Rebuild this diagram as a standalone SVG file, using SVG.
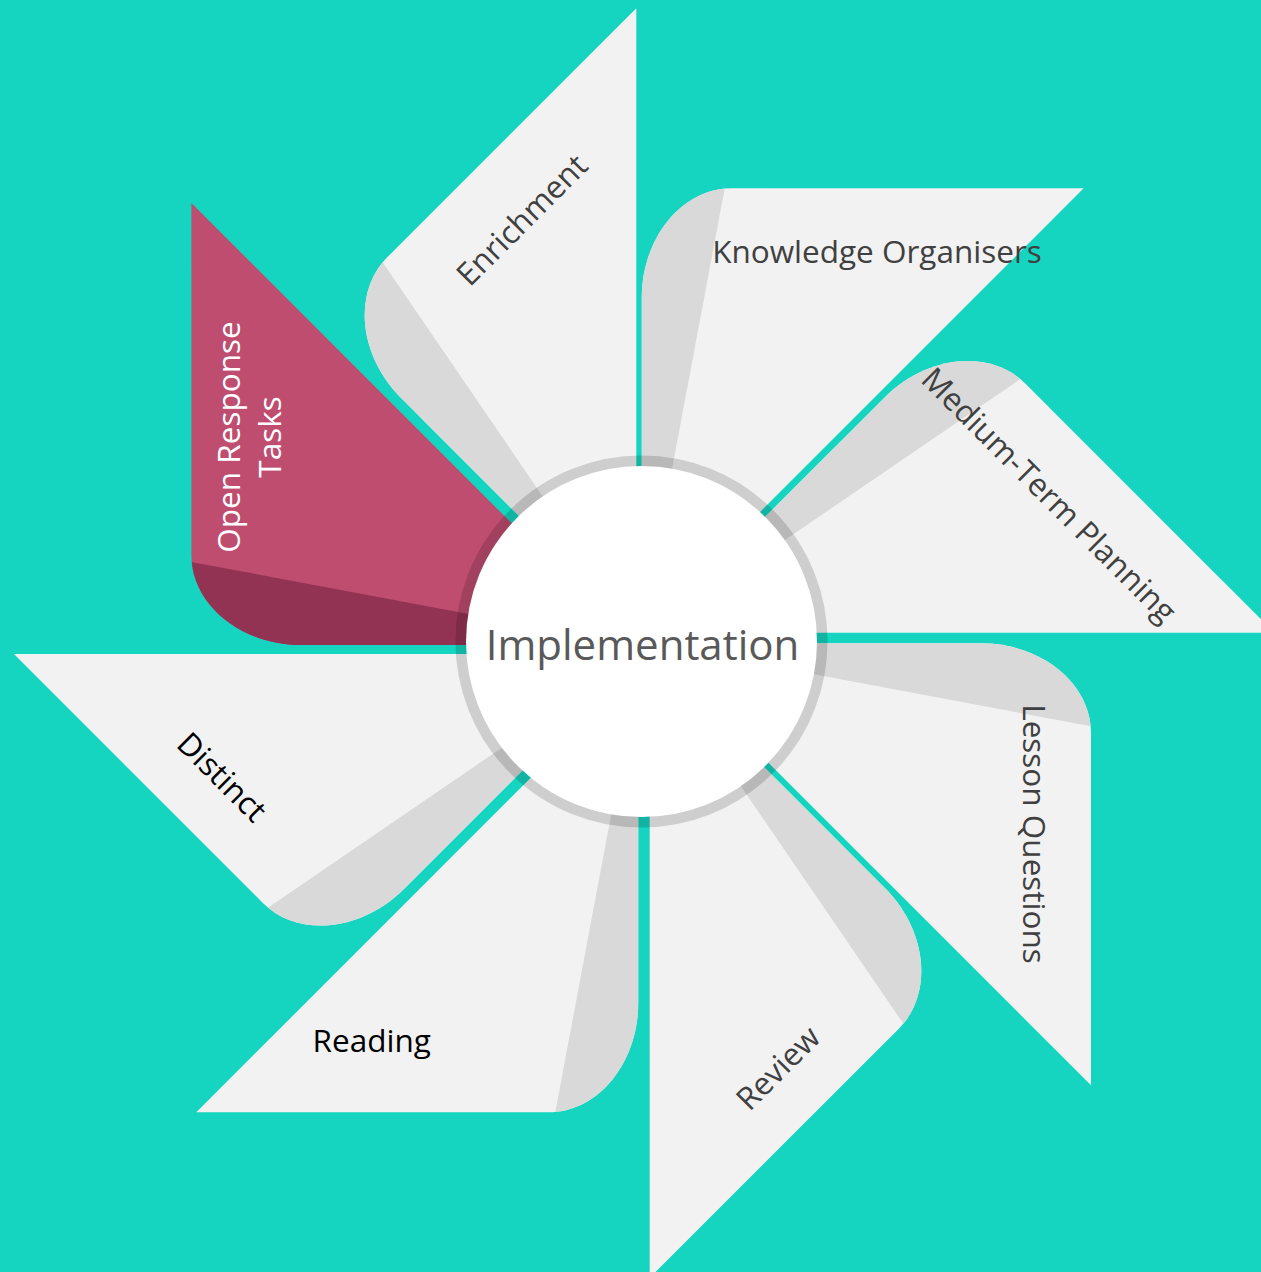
<svg xmlns="http://www.w3.org/2000/svg" xmlns:xlink="http://www.w3.org/1999/xlink" width="1261" height="1272" viewBox="0 0 1261 1272">
  <style>
    .light { fill: #f2f2f2; }
    .shade { fill: #d9d9d9; }
    .plight { fill: #be4d70; }
    .pshade { fill: #933353; }
    .lbl { font-family: "Open Sans", "Noto Sans", "Liberation Sans", sans-serif; font-size: 31.5px; fill: #404040; text-anchor: middle; }
    .dark { fill: #000000; }
    .white { fill: #ffffff; }
    .center { font-family: "Open Sans", "Noto Sans", "Liberation Sans", sans-serif; font-size: 42px; fill: #595959; text-anchor: middle; }
  </style>
  <defs>
    <path id="blade" d="M0,0 L0,-332 C0,-392.7 40.3,-442 90,-442 L442,-442 Z"/>
    <clipPath id="bc"><use xlink:href="#blade"/></clipPath>
    <polygon id="wedge" points="0,0 -2,-470 88.3,-470" clip-path="url(#bc)"/>
  </defs>
  <rect x="0" y="0" width="1261" height="1272" fill="#15d4c0"/>

  <g id="blade-enrichment" transform="translate(636.3,633.3) rotate(-45)">
    <use xlink:href="#blade" class="light"/>
    <use xlink:href="#wedge" class="shade"/>
  </g>
  <g id="blade-knowledge" transform="translate(641.7,630.3)">
    <use xlink:href="#blade" class="light"/>
    <use xlink:href="#wedge" class="shade"/>
  </g>
  <g id="blade-medium" transform="translate(649.3,632.7) rotate(45)">
    <use xlink:href="#blade" class="light"/>
    <use xlink:href="#wedge" class="shade"/>
  </g>
  <g id="blade-lesson" transform="translate(649,643.3) rotate(90)">
    <use xlink:href="#blade" class="light"/>
    <use xlink:href="#wedge" class="shade"/>
  </g>
  <g id="blade-review" transform="translate(649.7,652.7) rotate(135)">
    <use xlink:href="#blade" class="light"/>
    <use xlink:href="#wedge" class="shade"/>
  </g>
  <g id="blade-reading" transform="translate(638.3,670.3) rotate(180)">
    <use xlink:href="#blade" class="light"/>
    <use xlink:href="#wedge" class="shade"/>
  </g>
  <g id="blade-distinct" transform="translate(639,654) rotate(225)">
    <use xlink:href="#blade" class="light"/>
    <use xlink:href="#wedge" class="shade"/>
  </g>
  <g id="blade-open-response" transform="translate(633.4,645) rotate(270)">
    <use xlink:href="#blade" class="plight"/>
    <use xlink:href="#wedge" class="pshade"/>
  </g>

  <g id="center-node">
    <circle cx="641.5" cy="641.5" r="175.5" fill="#ffffff"/>
    <circle cx="641.5" cy="641.5" r="180.8" fill="none" stroke="#000000" stroke-opacity="0.15" stroke-width="10.5"/>
    <text class="center" x="642.5" y="659.5">Implementation</text>
  </g>

  <g id="labels">
    <text class="lbl" transform="translate(522,220) rotate(-45)" x="0" y="11">Enrichment</text>
    <text class="lbl" x="877" y="263">Knowledge Organisers</text>
    <text class="lbl" transform="translate(1049,495) rotate(45)" x="0" y="11">Medium-Term Planning</text>
    <text class="lbl" transform="translate(1034,834) rotate(90)" x="0" y="11">Lesson Questions</text>
    <text class="lbl" transform="translate(778,1068) rotate(-45)" x="0" y="11">Review</text>
    <text class="lbl dark" x="371.7" y="1052">Reading</text>
    <text class="lbl dark" transform="translate(222,777) rotate(45)" x="0" y="11">Distinct</text>
    <text class="lbl white" transform="translate(249.5,437) rotate(-90)"><tspan x="0" y="-9.5">Open Response</tspan><tspan x="0" y="31.5">Tasks</tspan></text>
  </g>
</svg>
